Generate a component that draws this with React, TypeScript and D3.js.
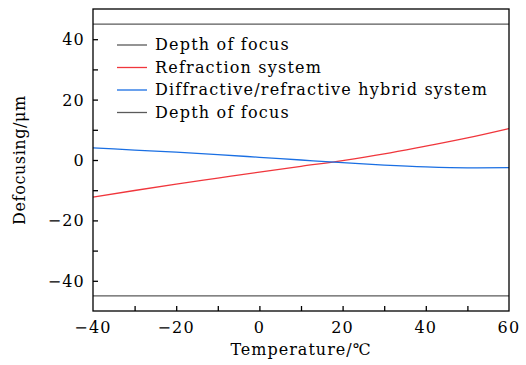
import { useEffect, useRef } from 'react';
import * as d3 from 'd3';

const temps = [-40, -30, -20, -10, 0, 10, 20, 30, 40, 50, 60];
const refraction = [-12.3, -10.1, -8.0, -6.0, -4.0, -2.1, -0.2, 2.0, 4.6, 7.3, 10.4];
const hybrid = [4.0, 3.3, 2.6, 1.8, 0.9, 0.0, -0.9, -1.7, -2.3, -2.6, -2.5];
const depthLimits = [45, -45];
const xTicks = [-40, -20, 0, 20, 40, 60];
const yTicks = [-40, -20, 0, 20, 40];
const legendLabels = ['Depth of focus', 'Refraction system', 'Diffractive/refractive hybrid system', 'Depth of focus'];

const GREY = '#5a5a5a';
const RED = '#f0363c';
const BLUE = '#1a6fe3';
const FONT = "'DejaVu Serif', serif";
const FS = 16;
const LS = 1.2;

const App = () => {
  const svgRef = useRef<SVGSVGElement>(null);

  useEffect(() => {
    if (!svgRef.current) return;
    const svg = d3.select(svgRef.current);
    svg.selectAll('*').remove();

    const left = 93, right = 509, top = 9, bottom = 311;
    const x = d3.scaleLinear().domain([-40, 60]).range([left, right]);
    const y = d3.scaleLinear().domain([-50, 50]).range([bottom, top]);

    // depth of focus lines
    depthLimits.forEach(v => {
      svg.append('line')
        .attr('x1', left).attr('x2', right)
        .attr('y1', y(v)).attr('y2', y(v))
        .attr('stroke', GREY).attr('stroke-width', 1.3);
    });

    const line = d3.line<number>()
      .x((_, i) => x(temps[i]))
      .y(d => y(d))
      .curve(d3.curveMonotoneX);

    svg.append('path').datum(refraction)
      .attr('fill', 'none').attr('stroke', RED).attr('stroke-width', 1.3)
      .attr('d', line);
    svg.append('path').datum(hybrid)
      .attr('fill', 'none').attr('stroke', BLUE).attr('stroke-width', 1.3)
      .attr('d', line);

    // frame
    svg.append('rect')
      .attr('x', left).attr('y', top)
      .attr('width', right - left).attr('height', bottom - top)
      .attr('fill', 'none').attr('stroke', '#000').attr('stroke-width', 1.3);

    // axes with inward ticks
    const xAxis = svg.append('g').attr('transform', `translate(0,${bottom})`);
    xAxis.call(d3.axisBottom(x).tickValues(d3.range(-40, 61, 10)).tickSize(-5).tickFormat(() => ''));
    const yAxis = svg.append('g').attr('transform', `translate(${left},0)`);
    yAxis.call(d3.axisLeft(y).tickValues(d3.range(-50, 51, 10)).tickSize(-5).tickFormat(() => ''));
    [xAxis, yAxis].forEach(g => {
      g.select('.domain').remove();
      g.selectAll('line').attr('stroke', '#000').attr('stroke-width', 1.3);
    });
    yAxis.selectAll('.tick').filter((d: any) => Math.abs(d) === 50).remove();
    xAxis.selectAll('.tick').filter((d: any) => d === -40 || d === 60).remove();

    const fmt = (v: number) => (v < 0 ? '\u2212' + Math.abs(v) : String(v));

    svg.append('g').selectAll('text').data(xTicks).enter().append('text')
      .attr('x', d => x(d)).attr('y', bottom + 22)
      .attr('text-anchor', 'middle')
      .attr('font-family', FONT).attr('font-size', FS).attr('letter-spacing', LS)
      .text(d => fmt(d));

    svg.append('g').selectAll('text').data(yTicks).enter().append('text')
      .attr('x', left - 8).attr('y', d => y(d) + 6)
      .attr('text-anchor', 'end')
      .attr('font-family', FONT).attr('font-size', FS).attr('letter-spacing', LS)
      .text(d => fmt(d));

    svg.append('text')
      .attr('x', 301).attr('y', 355)
      .attr('text-anchor', 'middle')
      .attr('font-family', FONT).attr('font-size', FS).attr('letter-spacing', 1)
      .text('Temperature/\u2103');

    svg.append('text')
      .attr('transform', `translate(25,${(top + bottom) / 2}) rotate(-90)`)
      .attr('text-anchor', 'middle')
      .attr('font-family', FONT).attr('font-size', FS).attr('letter-spacing', 0.6)
      .text('Defocusing/\u03bcm');

    // legend
    const legendColors = [GREY, RED, BLUE, GREY];
    const lg = svg.append('g');
    legendLabels.forEach((lab, i) => {
      const ly = 45 + i * 22.5;
      lg.append('line')
        .attr('x1', 117).attr('x2', 147)
        .attr('y1', ly).attr('y2', ly)
        .attr('stroke', legendColors[i]).attr('stroke-width', 1.3);
      lg.append('text')
        .attr('x', 155).attr('y', ly + 5)
        .attr('font-family', FONT).attr('font-size', FS).attr('letter-spacing', LS)
        .text(lab);
    });
  }, []);

  return (
    <svg
      ref={svgRef}
      width={526}
      height={365}
      style={{ display: 'block', position: 'absolute', left: 0, top: 0, background: '#fff' }}
    />
  );
};

export default App;
